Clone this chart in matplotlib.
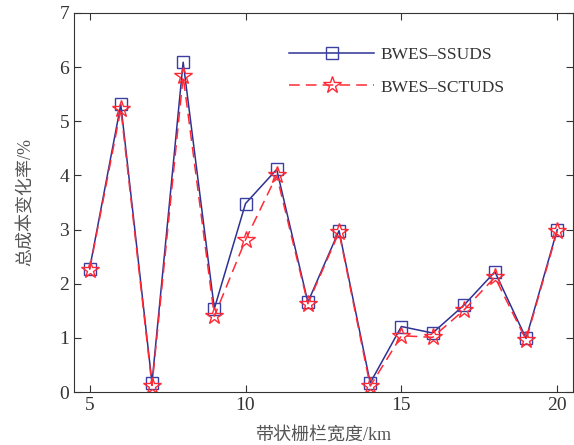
import matplotlib.pyplot as plt
import numpy as np

plt.rcParams['font.family'] = ['Liberation Serif', 'Noto Sans CJK SC']
plt.rcParams['mathtext.fontset'] = 'stix'

widths = np.arange(5, 21)
ssuds = [2.28, 5.31, 0.17, 6.09, 1.54, 3.48, 4.11, 1.66, 2.98, 0.17, 1.21, 1.09, 1.60, 2.22, 0.99, 3.00]
sctuds = [2.26, 5.22, 0.12, 5.83, 1.40, 2.81, 4.00, 1.63, 2.95, 0.11, 1.04, 1.01, 1.51, 2.12, 0.96, 2.97]
labels = ['BWES\u2013SSUDS', 'BWES\u2013SCTUDS']

fig = plt.figure(figsize=(5.74, 4.45), dpi=100)
ax = fig.add_axes([0.129, 0.119, 0.869, 0.852])

ax.plot(widths, ssuds, color='#2e3192', linewidth=1.1, marker='s', markersize=9,
        markerfacecolor='none', markeredgecolor='#3a3fa0', markeredgewidth=1.0, label=labels[0])
ax.plot(widths, sctuds, color='#ff2a35', linewidth=1.1, linestyle=(0, (7, 4)), marker='*',
        markersize=13, markerfacecolor='none', markeredgecolor='#ff2a35', markeredgewidth=1.0,
        label=labels[1])

ax.set_xlim(4.5, 20.5)
ax.set_ylim(0, 7)
ax.set_xticks([5, 10, 15, 20])
ax.set_yticks(range(0, 8))
ax.tick_params(direction='in', top=True, right=True, labelsize=14, length=5, colors='#333333',
               labelcolor='#333333')
for s in ax.spines.values():
    s.set_color('#333333')

ax.set_xlabel('带状栅栏宽度/km', fontsize=13, color='#555555', labelpad=10)
ax.set_ylabel('总成本变化率/%', fontsize=13, color='#555555', labelpad=18)

ax.legend(loc='upper right', bbox_to_anchor=(0.894, 0.952), frameon=False, fontsize=12.5,
          handlelength=4.9, labelspacing=0.95, handletextpad=0.35, labelcolor='#333333')

fig.savefig('out.png', dpi=100)
